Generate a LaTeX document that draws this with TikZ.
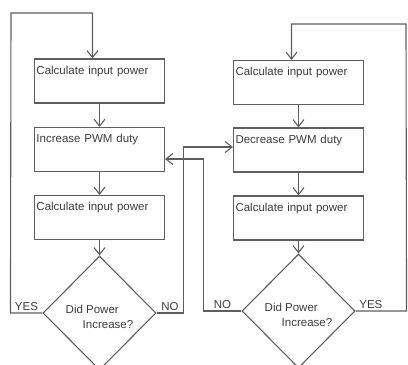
\documentclass[tikz,border=0pt]{standalone}
\usepackage{fontspec}
\setmainfont{Liberation Sans}
\usetikzlibrary{arrows.meta,shapes.geometric}
\definecolor{FlowLine}{HTML}{5E5E5E}
\definecolor{FlowText}{HTML}{3C3C3C}

\begin{document}
\begin{tikzpicture}[x=1pt,y=-1pt,
    stepbox/.style={draw=FlowLine,line width=1.1pt,text=FlowText,
      text width=126pt,align=left,inner xsep=2pt,inner ysep=2pt,
      text height=13pt,text depth=27pt,
      font=\fontsize{11.5}{14}\selectfont},
    ask/.style={diamond,draw=FlowLine,line width=1.1pt,text=FlowText,
      minimum width=113pt,minimum height=114pt,inner sep=0pt,align=left,
      text height=33pt,text depth=2pt,
      font=\fontsize{11.5}{15}\selectfont},
    flow/.style={draw=FlowLine,line width=1.1pt,
      -{Straight Barb[length=7pt,width=11pt]}},
    tag/.style={text=FlowText,font=\fontsize{11.5}{14}\selectfont,
      above,inner sep=1.5pt}]

  \clip (0,0) rectangle (408,365);

  % left column
  \node[stepbox] (calcA) at (99.5,81) {Calculate input power};
  \node[stepbox] (incr) at (99.5,149.5) {Increase PWM duty};
  \node[stepbox] (calcB) at (99.5,217.5) {Calculate input power};
  \node[ask] (askA) at (99.5,313) {Did Power\\\hspace*{17pt}Increase?};

  % right column
  \node[stepbox] (calcC) at (298.5,82.5) {Calculate input power};
  \node[stepbox] (decr) at (298.5,150) {Decrease PWM duty};
  \node[stepbox] (calcD) at (298.5,218) {Calculate input power};
  \node[ask] (askB) at (298.5,311) {Did Power\\\hspace*{17pt}Increase?};

  \draw[flow] (calcA) -- (incr);
  \draw[flow] (incr) -- (calcB);
  \draw[flow] (calcB) -- (askA);
  \draw[flow] (calcC) -- (decr);
  \draw[flow] (decr) -- (calcD);
  \draw[flow] (calcD) -- (askB);

  % loops back
  \draw[flow] (askA.west) -- node[tag]{YES} ++(-32,0)
    -- (11,13) -| ([xshift=-7pt]calcA.north);
  \draw[flow] (askB.east) -- node[tag,pos=0.3]{YES} ++(51,0)
    -- (406,24) -| ([xshift=-7pt]calcC.north);

  % cross over
  \draw[flow] (askA.east) -- node[tag]{NO} ++(27,0)
    |- ([yshift=3pt]decr.west);
  \draw[flow] (askB.west) -- node[tag]{NO} ++(-38,0)
    |- ([yshift=-9.5pt]incr.east);
\end{tikzpicture}
\end{document}
